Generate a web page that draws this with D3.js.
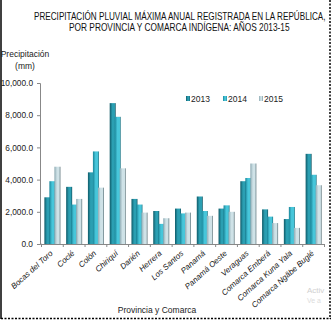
<!DOCTYPE html>
<html><head><meta charset="utf-8">
<script src="https://cdn.jsdelivr.net/npm/d3@7"></script>
<style>body{margin:0;background:#fff}svg{display:block;font-family:"Liberation Sans",Arial,sans-serif}</style>
</head><body>
<svg id="c" width="331" height="321"></svg>
<script>
const categories = ["Bocas del Toro","Coclé","Colón","Chiriquí","Darién","Herrera","Los Santos","Panamá","Panamá Oeste","Veraguas","Comarca Emberá","Comarca Kuna Yala","Comarca Ngäbe Buglé"];
const years = ["2013","2014","2015"];
const v2013 = [2900,3550,4450,8750,2800,2050,2200,2950,2200,3900,2150,1550,5600];
const v2014 = [3900,2450,5750,7900,2450,1250,1900,2050,2400,4100,1700,2300,4300];
const v2015 = [4800,2800,3500,4700,1950,1600,1950,1750,2000,5000,1300,1000,3650];
const yTicks = [0,2000,4000,6000,8000,10000];

const series = [v2013, v2014, v2015];
const svg = d3.select("#c");
const defs = svg.append("defs");
const grads = [
  ["#0f5a68","#2b9fb2","#0c4855"],
  ["#1a8599","#47c6da","#156a79"],
  ["#8eaab3","#cfe2e7","#4d666d"]
];
grads.forEach((g,i)=>{
  const lg = defs.append("linearGradient").attr("id","g"+i).attr("x1","0").attr("x2","1").attr("y1","0").attr("y2","0");
  lg.append("stop").attr("offset","0%").attr("stop-color",g[0]);
  lg.append("stop").attr("offset","45%").attr("stop-color",g[1]);
  lg.append("stop").attr("offset","80%").attr("stop-color",g[1]);
  lg.append("stop").attr("offset","100%").attr("stop-color",g[2]);
});

// frame
svg.append("line").attr("x1",1).attr("x2",1).attr("y1",0).attr("y2",319).attr("stroke","#000").attr("stroke-width",1.5);
svg.append("line").attr("x1",330).attr("x2",330).attr("y1",0).attr("y2",319).attr("stroke","#000").attr("stroke-width",1.5).attr("stroke-dasharray","2,1.5");
svg.append("line").attr("x1",1).attr("x2",331).attr("y1",318.5).attr("y2",318.5).attr("stroke","#000").attr("stroke-width",1.5).attr("stroke-dasharray","2,1.5");

// title (horizontally condensed to match reference widths)
function condensed(txt, x0, x1, yb){
  const t = svg.append("text").attr("font-size",10).attr("fill","#111").text(txt);
  const w = t.node().getComputedTextLength();
  const s = (x1 - x0) / w;
  t.attr("transform",`translate(${x0},${yb}) scale(${s},1)`);
}
condensed("PRECIPITACIÓN PLUVIAL MÁXIMA ANUAL REGISTRADA EN LA REPÚBLICA,", 34, 326, 20);
condensed("POR PROVINCIA Y COMARCA INDÍGENA: AÑOS 2013-15", 69, 290, 31);

const x0 = d3.scaleBand().domain(categories).range([41.5,324.5]).paddingInner(0).paddingOuter(0);
const y = d3.scaleLinear().domain([0,10000]).range([244,83]);
const x1 = d3.scaleBand().domain(years).range([0,16]);

// y axis title
svg.append("text").attr("x",25).attr("y",57).attr("text-anchor","middle").attr("font-size",8.5).attr("fill","#222").text("Precipitación");
svg.append("text").attr("x",25).attr("y",69).attr("text-anchor","middle").attr("font-size",8.5).attr("fill","#222").text("(mm)");

// y axis
const yAx = svg.append("g").attr("transform","translate(40,0)")
  .call(d3.axisLeft(y).tickValues(yTicks).tickSize(3).tickFormat(d3.format(",.1f")));
yAx.select(".domain").attr("stroke","#888");
yAx.selectAll(".tick line").attr("stroke","#888");
yAx.selectAll("text").attr("font-size",8.3).attr("fill","#222").attr("font-family","Liberation Sans, Arial").attr("dx",-1);

// bars
series.forEach((vals,si)=>{
  svg.append("g").selectAll("rect").data(vals).join("rect")
    .attr("x",(d,i)=>x0(categories[i]) + (x0.bandwidth()-16)/2 + si*5)
    .attr("width",6)
    .attr("y",d=>y(d))
    .attr("height",d=>y(0)-y(d))
    .attr("fill","url(#g"+si+")");
});

// x axis
const xAx = svg.append("g").attr("transform","translate(0,244)")
  .call(d3.axisBottom(x0).tickSize(0).tickFormat(""));
xAx.select(".domain").attr("stroke","#888");
const bounds = categories.map(c=>x0(c)).concat([x0.range()[1]]);
svg.append("g").selectAll("line").data(bounds).join("line")
  .attr("x1",d=>d).attr("x2",d=>d).attr("y1",244).attr("y2",247).attr("stroke","#888");
svg.append("line").attr("x1",40).attr("x2",41.5).attr("y1",244).attr("y2",244).attr("stroke","#888");

// x labels
svg.append("g").selectAll("text").data(categories).join("text")
  .attr("transform",c=>`translate(${x0(c)+x0.bandwidth()/2+1},${254}) rotate(-42)`)
  .attr("text-anchor","end").attr("font-size",8).attr("font-style","italic").attr("fill","#111")
  .text(c=>c);

// x axis title
svg.append("text").attr("x",157).attr("y",313).attr("text-anchor","middle").attr("font-size",8.5).attr("fill","#222").text("Provincia y Comarca");

// legend
const lx = [186,223,259];
years.forEach((yr,i)=>{
  svg.append("rect").attr("x",lx[i]).attr("y",96).attr("width",4).attr("height",5).attr("fill","url(#g"+i+")");
  svg.append("text").attr("x",lx[i]+5).attr("y",101.5).attr("font-size",8.5).attr("fill","#222").text(yr);
});

// faint watermark
svg.append("text").attr("x",307).attr("y",293).attr("font-size",8).attr("fill","#d0d0d0").text("Activ");
svg.append("text").attr("x",307).attr("y",303).attr("font-size",7).attr("fill","#dcdcdc").text("Ve a");
</script>
</body></html>
